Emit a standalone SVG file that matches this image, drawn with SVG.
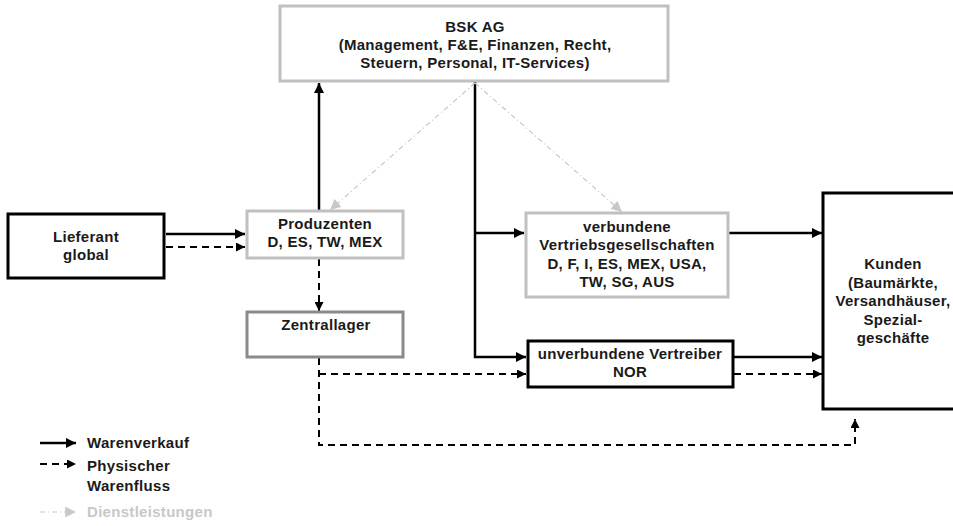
<svg xmlns="http://www.w3.org/2000/svg" width="953" height="526" viewBox="0 0 953 526">
<defs>
<style>
text{font-family:"Liberation Sans",Arial,sans-serif;font-weight:bold;font-size:15px;letter-spacing:0.3px;fill:#1a1a1a;text-anchor:middle}
.lg{text-anchor:start}
.box{fill:#fff;stroke-width:3}
.blk{stroke:#000}
.gry{stroke:#c0c0c0}
.dgry{stroke:#8a8a8a}
.sol{fill:none;stroke:#000;stroke-width:2.5}
.dsh{fill:none;stroke:#000;stroke-width:2;stroke-dasharray:7,5}
.svc{fill:none;stroke:#c8c8c8;stroke-width:1.2;stroke-dasharray:5,3,1,3}
</style>
<marker id="ah" viewBox="0 0 10 10" refX="10" refY="5" markerWidth="4" markerHeight="4" orient="auto"><path d="M0,0L10,5L0,10z" fill="#000"/></marker>
<marker id="ahd" viewBox="0 0 10 10" refX="10" refY="5" markerWidth="4.5" markerHeight="4.5" orient="auto"><path d="M0,0L10,5L0,10z" fill="#000"/></marker>
<marker id="ahg" viewBox="0 0 10 10" refX="10" refY="5" markerWidth="9" markerHeight="9" orient="auto"><path d="M0,0L10,5L0,10z" fill="#c8c8c8"/></marker>
</defs>
<rect width="953" height="526" fill="#fff"/>
<g id="connectors">
<path class="sol" d="M166,234H245" marker-end="url(#ah)"/>
<path class="dsh" d="M166,247H245" marker-end="url(#ahd)"/>
<path class="sol" d="M319,210V83" marker-end="url(#ah)"/>
<path class="sol" d="M475,82V357H526" marker-end="url(#ah)"/>
<path class="sol" d="M475,233H524" marker-end="url(#ah)"/>
<path class="svc" d="M475,83L330,210" marker-end="url(#ahg)"/>
<path class="svc" d="M475,83L622,212" marker-end="url(#ahg)"/>
<path class="dsh" d="M319,259V311" marker-end="url(#ahd)"/>
<path class="dsh" d="M319,358V445H855V419" marker-end="url(#ahd)"/>
<path class="dsh" d="M319,374H526" marker-end="url(#ahd)"/>
<path class="sol" d="M729,233H822" marker-end="url(#ah)"/>
<path class="sol" d="M734,357H822" marker-end="url(#ah)"/>
<path class="dsh" d="M734,374H822" marker-end="url(#ahd)"/>
</g>
<g id="bsk">
<rect class="box gry" x="280" y="6" width="388" height="75"/>
<text x="475" y="32">BSK AG</text>
<text x="475" y="50">(Management, F&amp;E, Finanzen, Recht,</text>
<text x="475" y="68">Steuern, Personal, IT-Services)</text>
</g>
<g id="lieferant">
<rect class="box blk" x="8" y="214" width="156" height="64"/>
<text x="86" y="242">Lieferant</text>
<text x="86" y="260">global</text>
</g>
<g id="produzenten">
<rect class="box gry" x="247" y="211" width="156" height="47"/>
<text x="325" y="229">Produzenten</text>
<text x="325" y="247">D, ES, TW, MEX</text>
</g>
<g id="zentrallager">
<rect class="box dgry" x="247" y="312" width="156" height="45"/>
<text x="326" y="330">Zentrallager</text>
</g>
<g id="verbundene">
<rect class="box gry" x="526" y="213" width="202" height="84"/>
<text x="627" y="232">verbundene</text>
<text x="627" y="250">Vertriebsgesellschaften</text>
<text x="627" y="269">D, F, I, ES, MEX, USA,</text>
<text x="627" y="287">TW, SG, AUS</text>
</g>
<g id="unverbundene">
<rect class="box blk" x="528" y="341" width="205" height="46"/>
<text x="630" y="359">unverbundene Vertreiber</text>
<text x="630" y="377">NOR</text>
</g>
<g id="kunden">
<rect class="box blk" x="823" y="193" width="135" height="216"/>
<text x="893" y="269">Kunden</text>
<text x="893" y="288">(Baumärkte,</text>
<text x="893" y="306">Versandhäuser,</text>
<text x="893" y="325">Spezial-</text>
<text x="893" y="343">geschäfte</text>
</g>
<g id="legend">
<path class="sol" d="M40,443H76" marker-end="url(#ah)"/>
<path class="dsh" d="M40,464H76" marker-end="url(#ahd)"/>
<path class="svc" d="M40,512H76" marker-end="url(#ahg)"/>
<text class="lg" x="87" y="448">Warenverkauf</text>
<text class="lg" x="87" y="471">Physischer</text>
<text class="lg" x="87" y="491">Warenfluss</text>
<text class="lg" x="87" y="517" style="fill:#c8c8c8">Dienstleistungen</text>
</g>
</svg>
